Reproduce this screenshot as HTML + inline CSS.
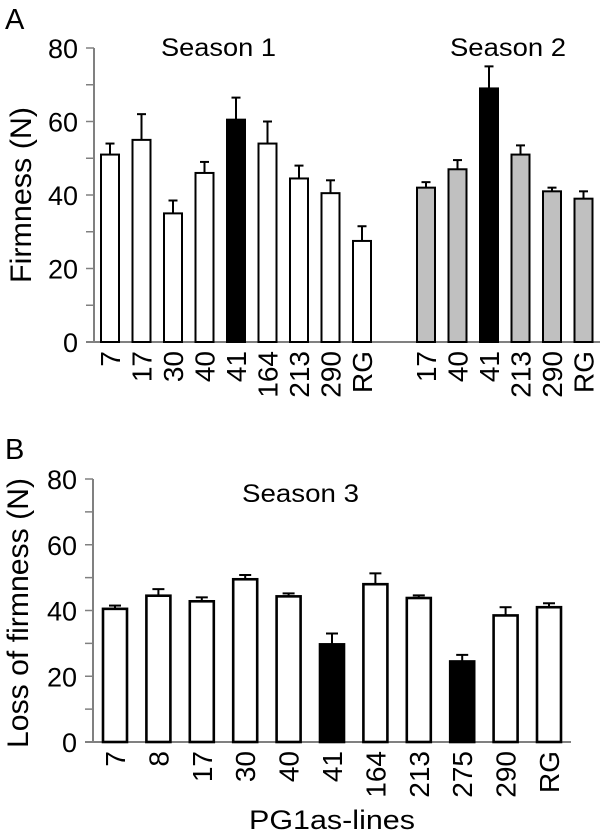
<!DOCTYPE html>
<html><head><meta charset="utf-8"><style>
html,body{margin:0;padding:0;background:#fff;}
svg{display:block;font-family:"Liberation Sans",sans-serif;}
</style></head><body>
<svg id="chart" width="600" height="838" viewBox="0 0 600 838" xmlns="http://www.w3.org/2000/svg">
<text x="5" y="29" font-size="29">A</text>
<text x="5" y="459" font-size="29">B</text>
<text x="161" y="56" font-size="25" textLength="115" lengthAdjust="spacingAndGlyphs">Season 1</text>
<text x="450" y="56" font-size="25" textLength="116" lengthAdjust="spacingAndGlyphs">Season 2</text>
<text x="242" y="502" font-size="25" textLength="117" lengthAdjust="spacingAndGlyphs">Season 3</text>
<text transform="translate(31,195) rotate(-90)" font-size="30" text-anchor="middle" textLength="176" lengthAdjust="spacingAndGlyphs">Firmness (N)</text>
<text transform="translate(28,613) rotate(-90)" font-size="30" text-anchor="middle" textLength="270" lengthAdjust="spacingAndGlyphs">Loss of firmness (N)</text>
<text x="249" y="829" font-size="27" textLength="166" lengthAdjust="spacingAndGlyphs">PG1as-lines</text>
<g id="ga"></g><g id="gb"></g>
</svg>
<script>
const catsS1 = ["7","17","30","40","41","164","213","290","RG"];
const valsS1 = [51,55,35,46,60.5,54,44.5,40.5,27.5];
const errS1 = [54,62,38.5,49,66.5,60,48,44,31.5];
const fillS1 = ["#fff","#fff","#fff","#fff","#000","#fff","#fff","#fff","#fff"];
const catsS2 = ["17","40","41","213","290","RG"];
const valsS2 = [42,47,69,51,41,39];
const errS2 = [43.5,49.5,75,53.5,42,41];
const fillS2 = ["#c0c0c0","#c0c0c0","#000","#c0c0c0","#c0c0c0","#c0c0c0"];
const catsS3 = ["7","8","17","30","40","41","164","213","275","290","RG"];
const valsS3 = [40.5,44.5,42.8,49.5,44.3,29.7,48,43.8,24.5,38.5,41];
const errS3 = [41.5,46.5,44,50.8,45.2,33,51.3,44.6,26.5,41,42.2];
const fillS3 = ["#fff","#fff","#fff","#fff","#fff","#000","#fff","#fff","#000","#fff","#fff"];
const yTicks = [0,20,40,60,80];

const NS="http://www.w3.org/2000/svg";
function mk(parent,tag,attrs){const e=document.createElementNS(NS,tag);for(const k in attrs)e.setAttribute(k,attrs[k]);parent.appendChild(e);return e;}

function panel(g,o,groups,id){
  const y0=o.y0,y80=o.y80,axisX=o.ax;
  const ys=v=>y0-(v/80)*(y0-y80);
  const ax=mk(g,"line",{x1:axisX,y1:y80,x2:axisX,y2:y0,stroke:"#808080","stroke-width":2});
  
  
  const bx=mk(g,"line",{x1:axisX-8,y1:y0,x2:o.end,y2:y0,stroke:"#808080","stroke-width":2});
  
  
  for(let v=10;v<=80;v+=10){
    const t=mk(g,"line",{x1:axisX-8,y1:ys(v),x2:axisX,y2:ys(v),stroke:"#808080","stroke-width":1.5});
    
    
  }
  yTicks.forEach(v=>{
    const t=mk(g,"text",{x:axisX-16,y:ys(v)+10,"font-size":27,"text-anchor":"end"});
    t.textContent=v;
    
    
  });
  groups.forEach(gr=>{
    gr.cats.forEach((c,i)=>{
      const cx=gr.start+i*gr.step, w=gr.w;
      const top=ys(gr.vals[i]), et=ys(gr.errs[i]);
      const el=mk(g,"line",{x1:cx,y1:top,x2:cx,y2:et,stroke:"#000","stroke-width":2});
      
      
      const cap=mk(g,"line",{x1:cx-o.cap,y1:et,x2:cx+o.cap,y2:et,stroke:"#000","stroke-width":2});
      
      
      const r=mk(g,"rect",{x:cx-w/2,y:top,width:w,height:y0-top,fill:gr.fill[i],stroke:"#000","stroke-width":o.sw});
      
      
      const t=mk(g,"text",{transform:`translate(${cx+10},${y0+9}) rotate(-90)`,"font-size":28,"text-anchor":"end"});
      t.textContent=c;
      
      
    });
  });
}
panel(document.getElementById("ga"),{y0:342,y80:48,ax:94,end:600,cap:4.5,sw:2},[
  {cats:catsS1,vals:valsS1,errs:errS1,fill:fillS1,start:110,step:31.5,w:18},
  {cats:catsS2,vals:valsS2,errs:errS2,fill:fillS2,start:426,step:31.5,w:18}
],"a");
panel(document.getElementById("gb"),{y0:742,y80:479,ax:93,end:571,cap:6,sw:2.6},[
  {cats:catsS3,vals:valsS3,errs:errS3,fill:fillS3,start:115,step:43.4,w:24}
],"b");
</script>
</body></html>
